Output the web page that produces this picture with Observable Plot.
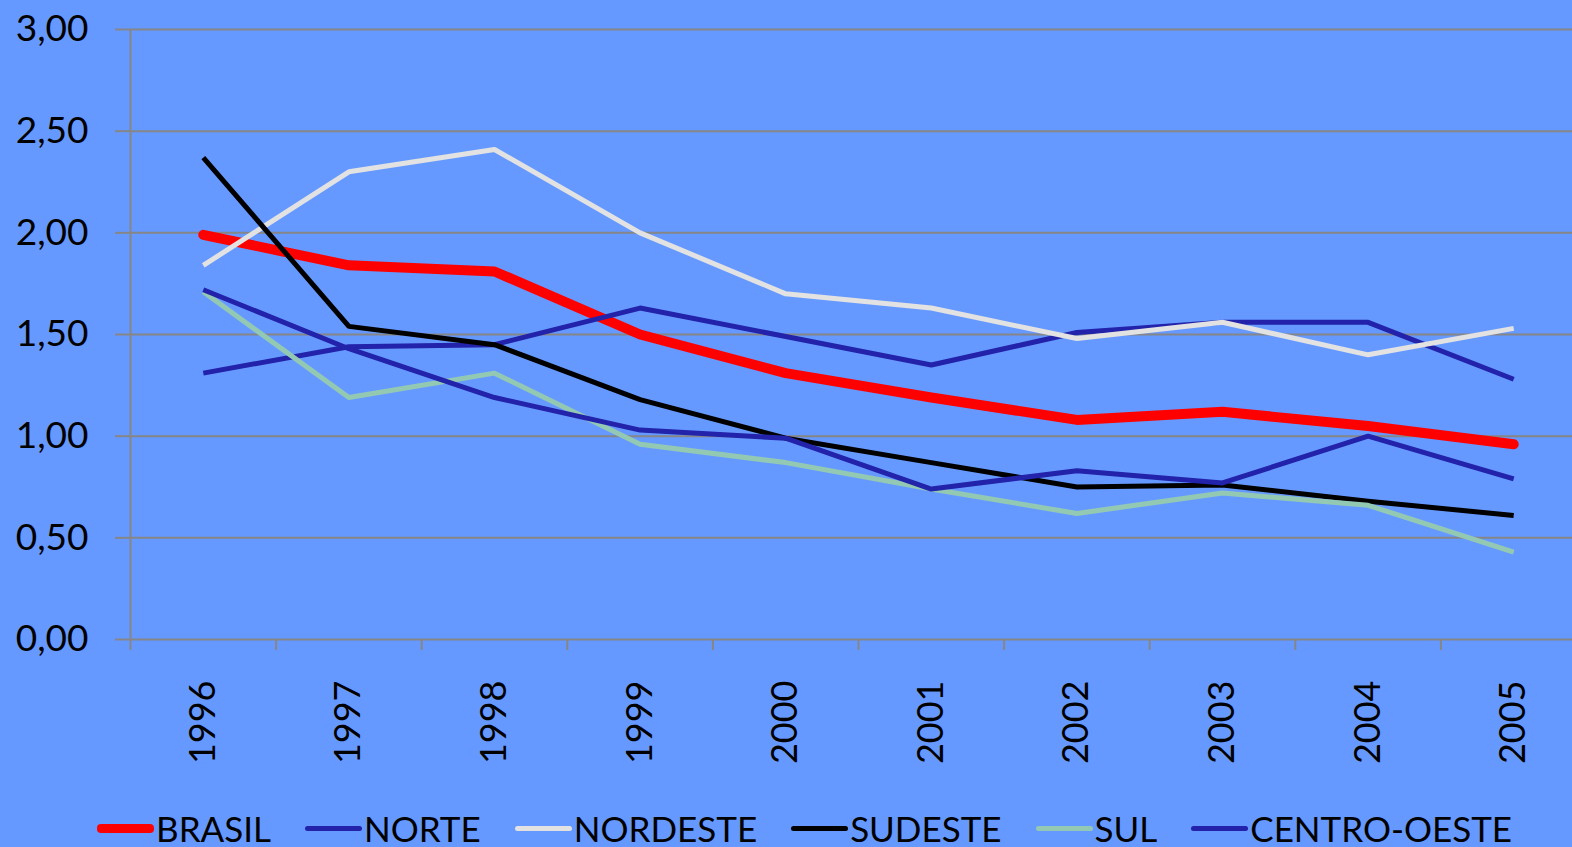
<!DOCTYPE html>
<html><head><meta charset="utf-8">
<script src="https://cdn.jsdelivr.net/npm/d3@7"></script>
<script src="https://cdn.jsdelivr.net/npm/@observablehq/plot@0.6"></script>
<style>
html,body{margin:0;padding:0;background:#6699FF;width:1572px;height:847px;overflow:hidden;font-family:Lato,sans-serif;}
#legend{display:flex;align-items:center;height:47px;padding-top:5px;padding-left:97px;color:#000;font-size:35px;line-height:1;}
.item{display:flex;align-items:center;margin-right:34px;}
.sw{width:57px;border-radius:4px;margin-right:2px;}
</style></head>
<body><div id="chart"></div><div id="legend"></div>
<script>
const years = [1996,1997,1998,1999,2000,2001,2002,2003,2004,2005];
const seriesNames = ["BRASIL","NORTE","NORDESTE","SUDESTE","SUL","CENTRO-OESTE"];
const brasil      = [1.99,1.84,1.81,1.50,1.31,1.19,1.08,1.12,1.05,0.96];
const norte       = [1.31,1.44,1.45,1.63,1.49,1.35,1.51,1.56,1.56,1.28];
const nordeste    = [1.84,2.30,2.41,2.00,1.70,1.63,1.48,1.56,1.40,1.53];
const sudeste     = [2.37,1.54,1.45,1.18,0.99,0.87,0.75,0.76,0.68,0.61];
const sul         = [1.71,1.19,1.31,0.96,0.87,0.74,0.62,0.72,0.66,0.43];
const centroOeste = [1.72,1.43,1.19,1.03,0.99,0.74,0.83,0.77,1.00,0.79];
const yTicks = [0,0.5,1,1.5,2,2.5,3];
const colors = ["#FF0000","#2222AA","#E2E2E2","#000000","#93C9B3","#2222AA"];
const widths = [10,5,5,5,5,5];

const values = [brasil,norte,nordeste,sudeste,sul,centroOeste];
const data = seriesNames.flatMap((s,i)=>years.map((y,j)=>({series:s, year:y, value:values[i][j]})));
const bounds = [...years.map(y=>y-0.5), years[years.length-1]+0.5];
const fmt = d => d.toFixed(2).replace(".",",");

const lineMarks = seriesNames.map((s,i)=>Plot.line(data.filter(d=>d.series===s),{
  x:"year", y:"value", stroke:colors[i], strokeWidth:widths[i], strokeLinejoin:"round", strokeLinecap: i===0?"round":"butt"
}));

const chart = Plot.plot({
  width:1572, height:800,
  marginTop:29, marginBottom:161, marginLeft:130, marginRight:0,
  style:{background:"transparent", fontFamily:"Lato, sans-serif", fontSize:"36px", color:"#000", overflow:"visible"},
  x:{type:"linear", domain:[bounds[0], bounds[bounds.length-1]], range:[130,1586]},
  y:{domain:[0,3], range:[639,29]},
  marks:[
    Plot.ruleY(yTicks,{stroke:"#868686", strokeWidth:2, strokeOpacity:1}),
    Plot.ruleX([bounds[0]],{y1:0, y2:3, stroke:"#868686", strokeWidth:2}),
    Plot.axisY({ticks:yTicks, tickFormat:fmt, tickSize:15, tickPadding:27, stroke:"#868686", strokeWidth:2, strokeOpacity:1, fontSize:37, label:null}),
    Plot.axisX({ticks:bounds, tickFormat:()=>"", tickSize:11, stroke:"#868686", strokeWidth:2, strokeOpacity:1, label:null}),
    Plot.axisX({ticks:years, tickFormat:d=>String(d), tickSize:0, tickPadding:41, tickRotate:-90, fontSize:36, label:null}),
    ...lineMarks
  ]
});
document.getElementById("chart").appendChild(chart);

const legend = document.getElementById("legend");
seriesNames.forEach((s,i)=>{
  const it = document.createElement("div"); it.className="item";
  const sw = document.createElement("div"); sw.className="sw";
  sw.style.background = colors[i]; sw.style.height = (i===0?9:5)+"px";
  const tx = document.createElement("span"); tx.textContent = s;
  it.appendChild(sw); it.appendChild(tx); legend.appendChild(it);
});
</script></body></html>
